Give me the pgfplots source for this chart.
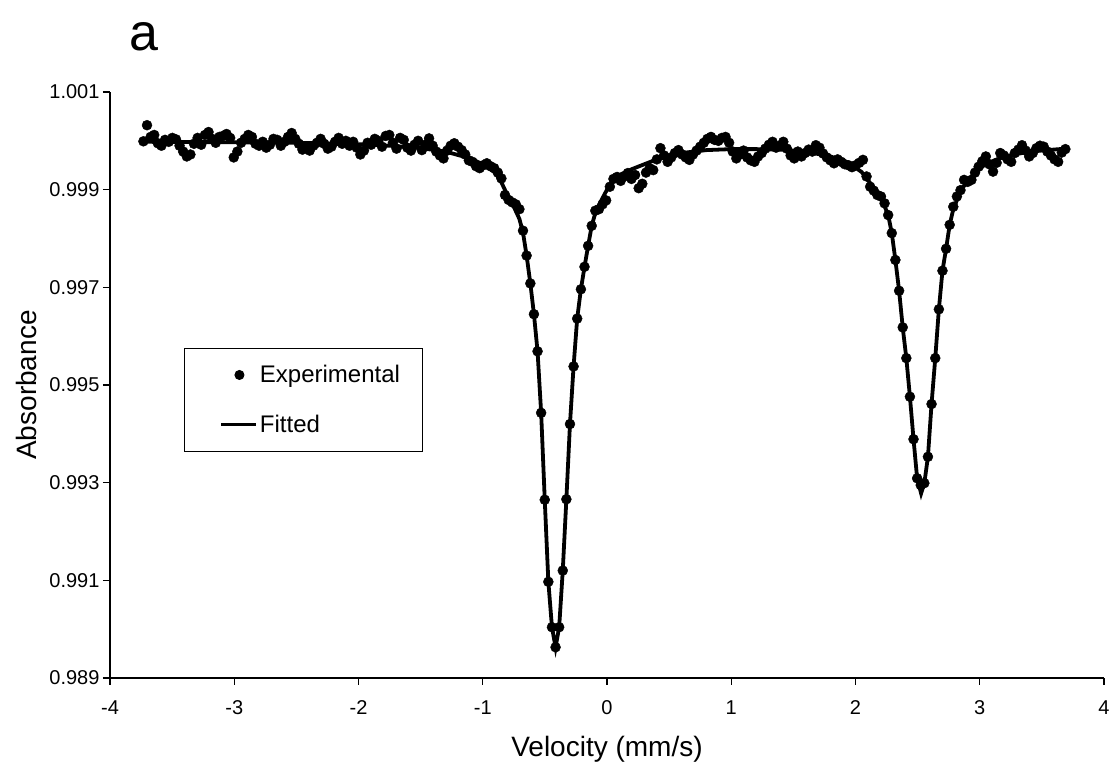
\documentclass[border=0pt]{standalone}
\usepackage{pgfplots}
\pgfplotsset{compat=1.18}
\usepackage{pgfplotstable}
\usepackage{fontspec}
\setmainfont{Liberation Sans}

\pgfplotstableread[row sep=\\]{
x y\\
-3.731 0.99999\\ -3.702 1.00032\\ -3.673 1.00008\\ -3.644 1.00012\\ -3.615 0.99995\\
-3.586 0.99990\\ -3.557 1.00002\\ -3.527 0.99998\\ -3.498 1.00006\\ -3.469 1.00003\\
-3.440 0.99990\\ -3.411 0.99978\\ -3.382 0.99968\\ -3.353 0.99972\\ -3.324 0.99994\\
-3.295 1.00006\\ -3.266 0.99992\\ -3.236 1.00012\\ -3.207 1.00018\\ -3.178 1.00004\\
-3.149 0.99996\\ -3.120 1.00008\\ -3.091 1.00010\\ -3.062 1.00014\\ -3.033 1.00006\\
-3.004 0.99966\\ -2.975 0.99978\\ -2.945 0.99996\\ -2.916 1.00004\\ -2.887 1.00012\\
-2.858 1.00008\\ -2.829 0.99994\\ -2.800 0.99990\\ -2.771 0.99998\\ -2.742 0.99986\\
-2.713 0.99992\\ -2.684 1.00004\\ -2.654 1.00002\\ -2.625 0.99990\\ -2.596 0.99998\\
-2.567 1.00008\\ -2.538 1.00016\\ -2.509 1.00004\\ -2.480 0.99994\\ -2.451 0.99982\\
-2.422 0.99986\\ -2.393 0.99980\\ -2.363 0.99990\\ -2.334 0.99996\\ -2.305 1.00004\\
-2.276 0.99994\\ -2.247 0.99984\\ -2.218 0.99988\\ -2.189 0.99998\\ -2.160 1.00006\\
-2.131 0.99994\\ -2.102 1.00000\\ -2.072 0.99990\\ -2.043 0.99998\\ -2.014 0.99986\\
-1.985 0.99972\\ -1.956 0.99980\\ -1.927 0.99996\\ -1.898 0.99992\\ -1.869 1.00004\\
-1.840 1.00000\\ -1.811 0.99988\\ -1.781 1.00010\\ -1.752 1.00012\\ -1.723 0.99996\\
-1.694 0.99984\\ -1.665 1.00006\\ -1.636 1.00002\\ -1.607 0.99986\\ -1.578 0.99980\\
-1.549 0.99992\\ -1.520 1.00000\\ -1.490 0.99981\\ -1.461 0.99992\\ -1.432 1.00005\\
-1.403 0.99990\\ -1.374 0.99978\\ -1.345 0.99970\\ -1.316 0.99964\\ -1.287 0.99980\\
-1.258 0.99990\\ -1.229 0.99995\\ -1.199 0.99988\\ -1.170 0.99981\\ -1.141 0.99972\\
-1.112 0.99960\\ -1.083 0.99957\\ -1.054 0.99948\\ -1.025 0.99944\\ -0.996 0.99950\\
-0.967 0.99954\\ -0.938 0.99948\\ -0.908 0.99944\\ -0.879 0.99935\\ -0.850 0.99923\\
-0.821 0.99889\\ -0.792 0.99879\\ -0.763 0.99874\\ -0.734 0.99870\\ -0.705 0.99860\\
-0.676 0.99816\\ -0.647 0.99765\\ -0.617 0.99708\\ -0.588 0.99645\\ -0.559 0.99569\\
-0.530 0.99443\\ -0.501 0.99265\\ -0.472 0.99097\\ -0.443 0.99004\\ -0.414 0.98963\\
-0.385 0.99004\\ -0.356 0.99120\\ -0.327 0.99266\\ -0.298 0.99420\\ -0.269 0.99538\\
-0.240 0.99636\\ -0.210 0.99696\\ -0.181 0.99742\\ -0.152 0.99785\\ -0.123 0.99826\\
-0.094 0.99857\\ -0.065 0.99860\\ -0.036 0.99870\\ -0.007 0.99878\\ 0.023 0.99906\\
0.052 0.99922\\ 0.081 0.99926\\ 0.110 0.99918\\ 0.139 0.99927\\ 0.168 0.99934\\
0.197 0.99922\\ 0.226 0.99930\\ 0.255 0.99903\\ 0.284 0.99912\\ 0.314 0.99935\\
0.343 0.99944\\ 0.372 0.99940\\ 0.401 0.99962\\ 0.430 0.99985\\ 0.459 0.99970\\
0.488 0.99957\\ 0.517 0.99966\\ 0.546 0.99975\\ 0.575 0.99981\\ 0.605 0.99972\\
0.634 0.99966\\ 0.663 0.99961\\ 0.692 0.99972\\ 0.721 0.99980\\ 0.750 0.99988\\
0.779 0.99996\\ 0.808 1.00004\\ 0.837 1.00008\\ 0.866 1.00002\\ 0.896 1.00000\\
0.925 1.00006\\ 0.954 1.00008\\ 0.983 0.99996\\ 1.012 0.99978\\ 1.041 0.99964\\
1.070 0.99972\\ 1.099 0.99980\\ 1.128 0.99966\\ 1.157 0.99960\\ 1.187 0.99957\\
1.216 0.99968\\ 1.245 0.99975\\ 1.274 0.99984\\ 1.303 0.99992\\ 1.332 0.99998\\
1.361 0.99986\\ 1.390 0.99990\\ 1.419 0.99998\\ 1.448 0.99984\\ 1.478 0.99970\\
1.507 0.99964\\ 1.536 0.99978\\ 1.565 0.99968\\ 1.594 0.99975\\ 1.623 0.99982\\
1.652 0.99978\\ 1.681 0.99991\\ 1.710 0.99986\\ 1.739 0.99974\\ 1.769 0.99966\\
1.798 0.99960\\ 1.827 0.99954\\ 1.856 0.99962\\ 1.885 0.99957\\ 1.914 0.99952\\
1.943 0.99950\\ 1.972 0.99946\\ 2.001 0.99950\\ 2.030 0.99955\\ 2.060 0.99961\\
2.089 0.99927\\ 2.118 0.99906\\ 2.147 0.99898\\ 2.176 0.99889\\ 2.205 0.99886\\
2.234 0.99872\\ 2.263 0.99848\\ 2.292 0.99811\\ 2.321 0.99756\\ 2.351 0.99693\\
2.380 0.99618\\ 2.409 0.99555\\ 2.438 0.99476\\ 2.467 0.99389\\ 2.496 0.99309\\
2.525 0.99295\\ 2.554 0.99299\\ 2.583 0.99353\\ 2.612 0.99461\\ 2.642 0.99555\\
2.671 0.99655\\ 2.700 0.99734\\ 2.729 0.99779\\ 2.758 0.99828\\ 2.787 0.99865\\
2.816 0.99886\\ 2.845 0.99899\\ 2.874 0.99920\\ 2.903 0.99916\\ 2.933 0.99920\\
2.962 0.99935\\ 2.991 0.99947\\ 3.020 0.99958\\ 3.049 0.99968\\ 3.078 0.99952\\
3.107 0.99937\\ 3.136 0.99955\\ 3.165 0.99975\\ 3.194 0.99970\\ 3.224 0.99962\\
3.253 0.99957\\ 3.282 0.99975\\ 3.311 0.99982\\ 3.340 0.99991\\ 3.369 0.99980\\
3.398 0.99968\\ 3.427 0.99975\\ 3.456 0.99985\\ 3.485 0.99990\\ 3.515 0.99988\\
3.544 0.99978\\ 3.573 0.99970\\ 3.602 0.99962\\ 3.631 0.99957\\ 3.660 0.99976\\
3.689 0.99983\\
}\expdata

\pgfplotstableread[row sep=\\]{
x y\\
-3.731 0.99998\\ -3.0 0.99997\\ -2.5 0.99996\\ -2.0 0.99993\\ -1.75 0.99990\\
-1.5 0.99985\\ -1.3 0.99978\\ -1.1 0.99964\\ -1.0 0.99952\\ -0.9 0.99935\\
-0.85 0.99915\\ -0.8 0.99888\\ -0.75 0.99865\\ -0.705 0.99840\\ -0.676 0.99812\\
-0.647 0.99765\\ -0.617 0.99708\\ -0.588 0.99645\\ -0.559 0.99569\\ -0.530 0.99443\\
-0.501 0.99265\\ -0.472 0.99097\\ -0.443 0.99004\\ -0.414 0.98963\\ -0.385 0.99004\\
-0.356 0.99120\\ -0.327 0.99266\\ -0.298 0.99420\\ -0.269 0.99538\\ -0.240 0.99636\\
-0.210 0.99696\\ -0.181 0.99742\\ -0.152 0.99785\\ -0.123 0.99826\\ -0.094 0.99852\\
-0.05 0.99876\\ 0.0 0.99900\\ 0.05 0.99920\\ 0.1 0.99930\\ 0.2 0.99942\\
0.4 0.99962\\ 0.6 0.99975\\ 0.8 0.99981\\ 1.0 0.99983\\ 1.2 0.99983\\
1.4 0.99982\\ 1.6 0.99978\\ 1.8 0.99968\\ 1.95 0.99954\\ 2.05 0.99936\\
2.15 0.99903\\ 2.205 0.99880\\ 2.234 0.99866\\ 2.263 0.99848\\ 2.292 0.99811\\
2.321 0.99756\\ 2.351 0.99693\\ 2.380 0.99618\\ 2.409 0.99555\\ 2.438 0.99476\\
2.467 0.99389\\ 2.496 0.99309\\ 2.528 0.99278\\ 2.554 0.99299\\ 2.583 0.99353\\
2.612 0.99461\\ 2.642 0.99555\\ 2.671 0.99655\\ 2.700 0.99734\\ 2.729 0.99779\\
2.758 0.99828\\ 2.787 0.99860\\ 2.85 0.99900\\ 2.95 0.99932\\ 3.05 0.99953\\
3.2 0.99968\\ 3.4 0.99978\\ 3.689 0.99984\\
}\fitdata

\begin{document}
\begin{tikzpicture}[x=1pt,y=1pt]
\useasboundingbox (0,0) rectangle (1111,765);
\begin{axis}[
  at={(110pt,87pt)}, anchor=south west,
  scale only axis, width=994pt, height=586pt,
  xmin=-4, xmax=4, ymin=0.989, ymax=1.001,
  axis x line*=bottom, axis y line*=left,
  axis line style={line width=1.3pt, black},
  xtick={-4,-3,-2,-1,0,1,2,3,4},
  xticklabels={-4,-3,-2,-1,0,1,2,3,4},
  ytick={0.989,0.991,0.993,0.995,0.997,0.999,1.001},
  yticklabels={0.989,0.991,0.993,0.995,0.997,0.999,1.001},
  scaled y ticks=false,
  tick align=outside, major tick length=7pt,
  tick style={line width=1.3pt, black},
  ticklabel style={font=\fontsize{20}{24}\selectfont},
  xticklabel style={yshift=-12pt},
  xlabel={Velocity (mm/s)},
  ylabel={Absorbance},
  label style={font=\fontsize{28}{32}\selectfont},
  xlabel style={at={(axis description cs:0.5,-0.1215)}, anchor=center},
  ylabel style={at={(axis description cs:-0.0845,0.5)}, anchor=center},
  title={a},
  title style={at={(axis description cs:0.0342,1.0598)}, anchor=base, font=\fontsize{52}{56}\selectfont},
  legend style={at={(0.0744,0.5631)}, anchor=north west, draw=black, line width=1pt,
    fill=white, font=\fontsize{24}{28}\selectfont, inner xsep=20pt, inner ysep=15pt,
    row sep=27pt, cells={anchor=west}, nodes={inner sep=2pt}},
]
\addplot[only marks, mark=*, mark size=5pt, black,
  legend image code/.code={\path[draw=none] (0pt,0pt) -- (53pt,0pt); \fill[black] (35pt,0pt) circle (4.5pt);}]
  table[x=x,y=y] {\expdata};
\addlegendentry{Experimental}
\addplot[black, line width=3.8pt, no marks,
  legend image code/.code={\path[draw=none] (0pt,0pt) -- (53pt,0pt); \draw[black, line width=3pt] (17pt,0pt) -- (52pt,0pt);}]
  table[x=x,y=y] {\fitdata};
\addlegendentry{Fitted}
\end{axis}
\end{tikzpicture}
\end{document}
